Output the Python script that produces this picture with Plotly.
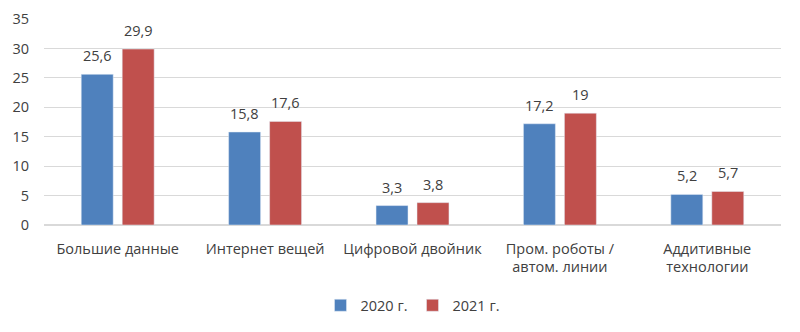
import plotly.graph_objects as go

categories = ["Большие данные", "Интернет вещей", "Цифровой двойник",
              "Пром. роботы /<br>автом. линии", "Аддитивные<br>технологии"]
series_names = ["2020 г.", "2021 г."]
values_2020 = [25.6, 15.8, 3.3, 17.2, 5.2]
values_2021 = [29.9, 17.6, 3.8, 19, 5.7]
colors = ["#4F81BD", "#C0504D"]

# page has an 8px body margin; size figure to fill the rest
W, H = 792, 324
ml, mr, mt, mb = 36, 19, 11, 107

def fmt(v):
    return (f"{v:g}").replace(".", ",")

FS = 14.5
fig = go.Figure()
series = [values_2020, values_2021]
for name, vals, col in zip(series_names, series, colors):
    fig.add_trace(go.Bar(
        x=categories, y=vals, name=name, marker_color=col,
    ))

# value labels
pw = W - ml - mr
slot = pw / len(categories) * (1 - 0.444) / 2
for i, vals in enumerate(series):
    shift = (i - 0.5) * slot
    for c, v in zip(categories, vals):
        fig.add_annotation(x=c, y=v, text=fmt(v), showarrow=False,
                           xshift=shift, yshift=7, yanchor="bottom",
                           font=dict(size=FS, color="#404040"))

fig.update_layout(
    width=W, height=H,
    margin=dict(l=ml, r=mr, t=mt, b=mb, autoexpand=False),
    paper_bgcolor="white", plot_bgcolor="white",
    font=dict(family="Open Sans, Liberation Sans, sans-serif", size=FS, color="#404040"),
    barmode="group", bargap=0.444, bargroupgap=0.22,
    legend=dict(orientation="h", x=0.5, xanchor="center", y=-0.39, yanchor="middle",
                font=dict(size=FS, color="#404040"), itemwidth=30, traceorder="normal"),
    yaxis=dict(range=[0, 35], dtick=5, showgrid=True, gridcolor="#D9D9D9",
               zeroline=True, zerolinecolor="#D9D9D9", ticks="", showline=False,
               automargin=False, ticklabelstandoff=14,
               tickfont=dict(size=FS, color="#404040")),
    xaxis=dict(showline=False, ticks="", automargin=False, ticklabelstandoff=13,
               tickfont=dict(size=FS, color="#404040")),
)

fig.write_html("out.html")
